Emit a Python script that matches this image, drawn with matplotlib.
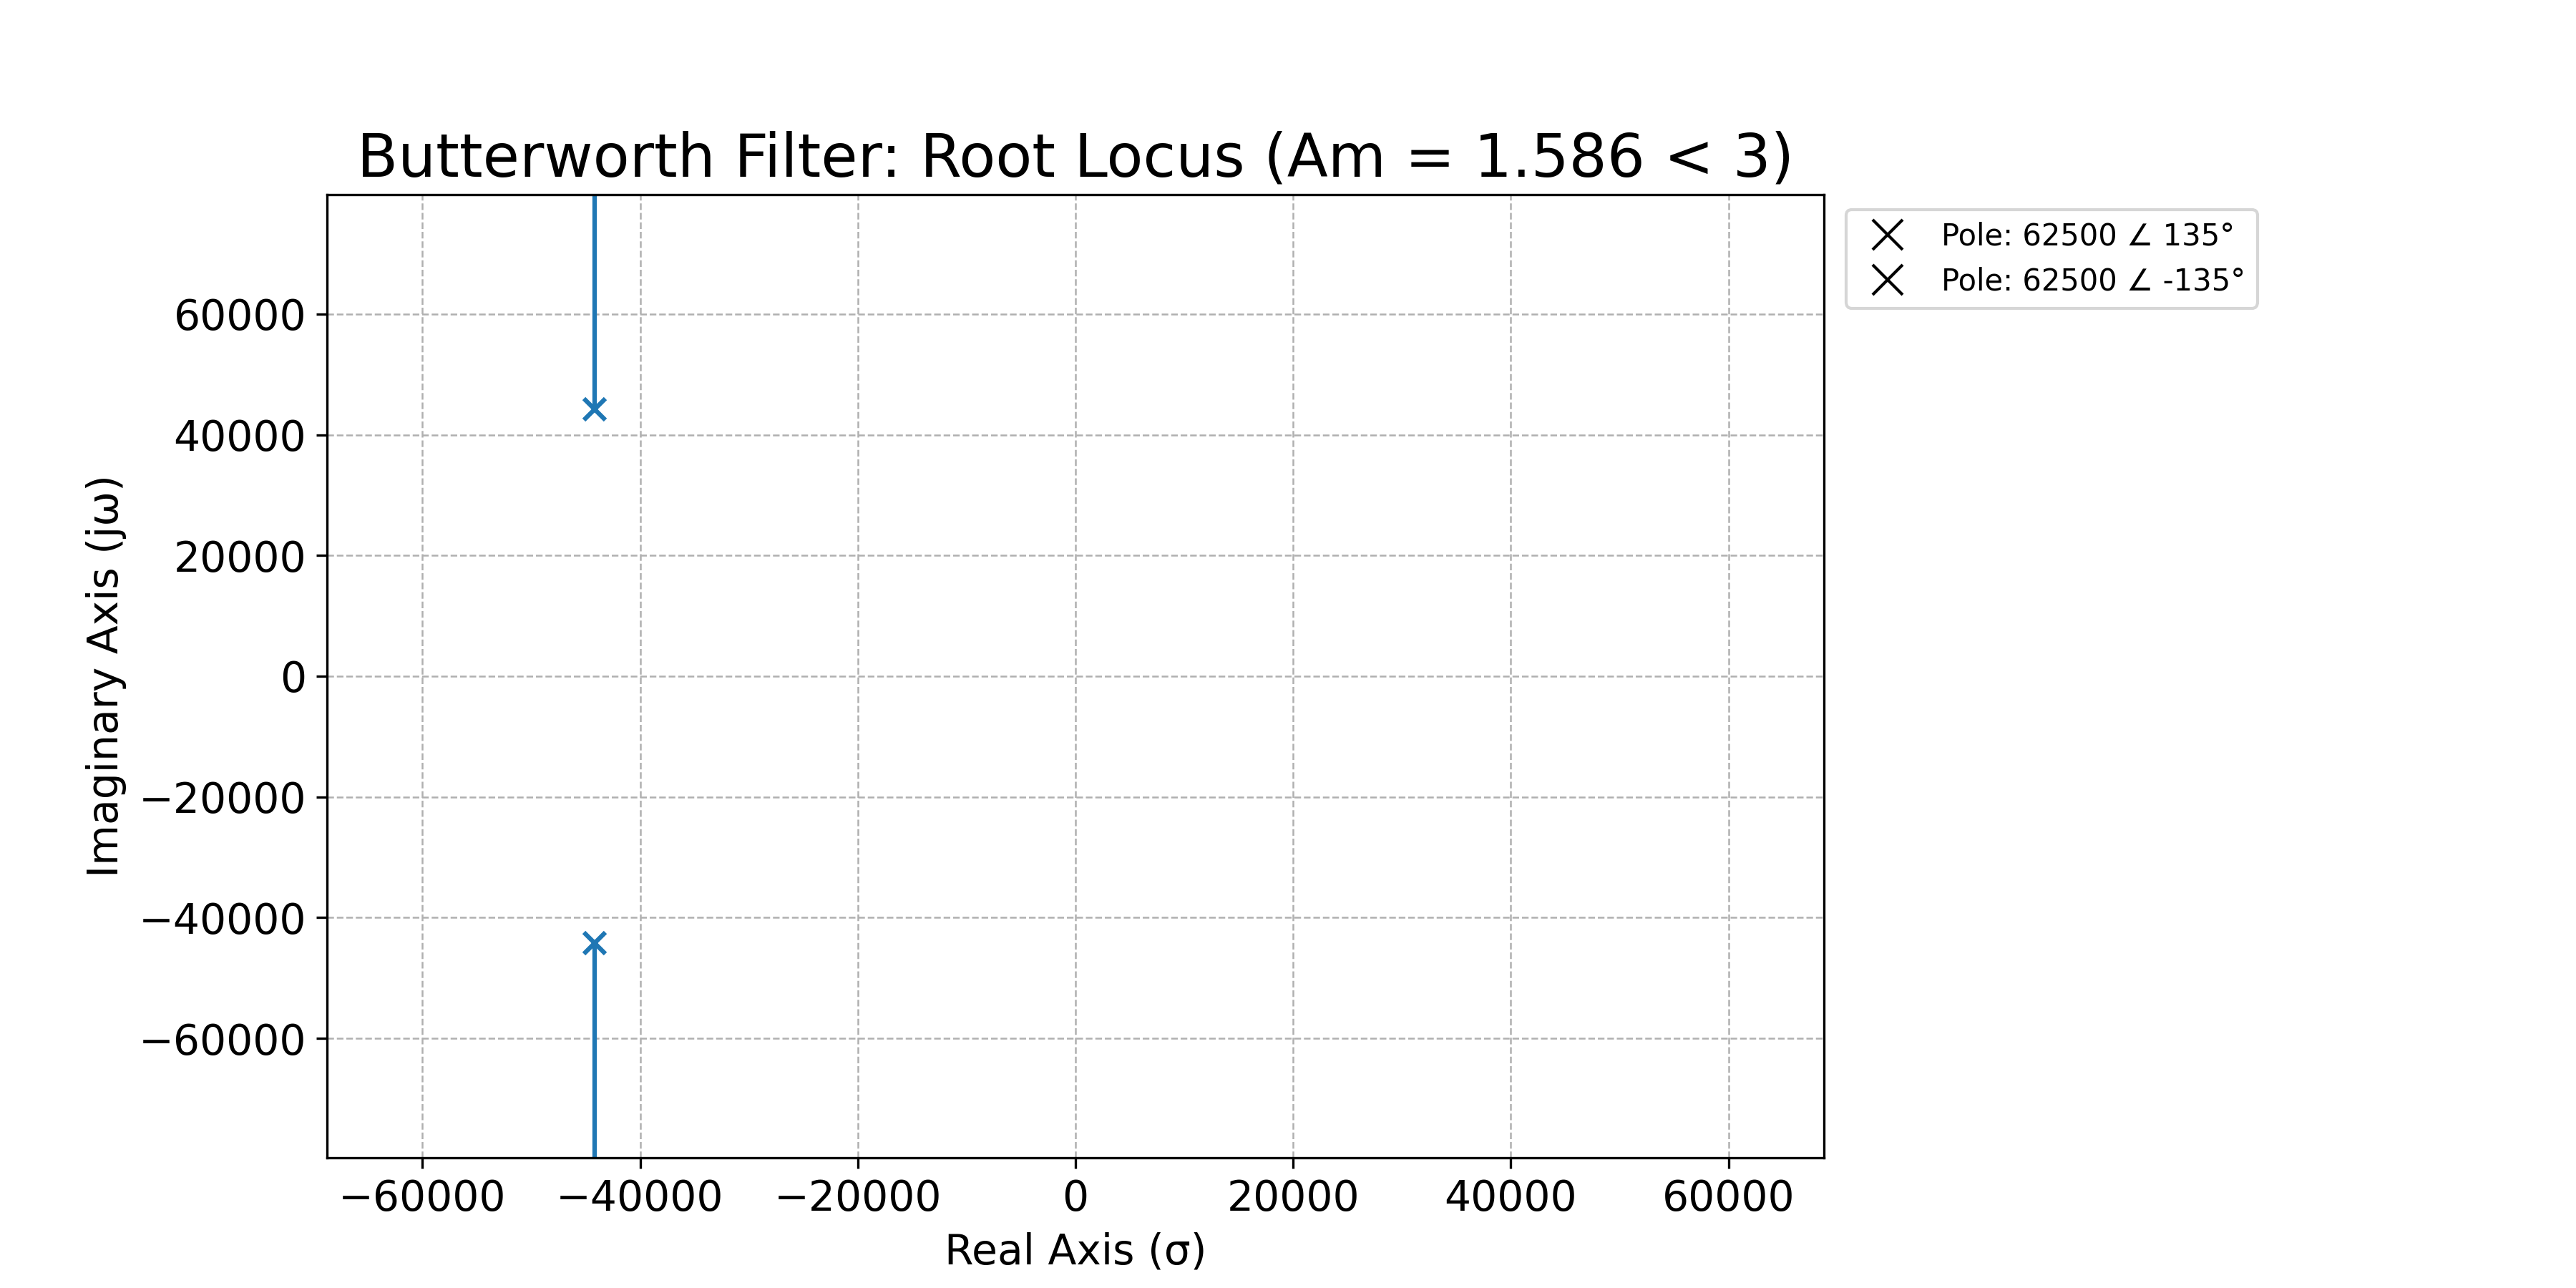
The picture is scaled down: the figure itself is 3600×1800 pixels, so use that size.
import numpy as np
import matplotlib.pyplot as plt

# pole data
pole_mag = 62500
pole_angles = [135, -135]
x_lim = 68750
y_lim = 79800

poles = [pole_mag * np.exp(1j * np.deg2rad(a)) for a in pole_angles]

fig = plt.figure(figsize=(12, 6), dpi=300)
ax = fig.add_axes([0.127, 0.101, 0.581, 0.748])

for p, a in zip(poles, pole_angles):
    end = y_lim * 2 * np.sign(p.imag)
    ax.plot([p.real, p.real], [p.imag, end], color='#1f77b4', lw=1.5)
    ax.plot(p.real, p.imag, 'x', color='#1f77b4', ms=7, mew=1.5)
    ax.plot([], [], 'x', color='black', ms=10, mew=1,
            label=f'Pole: {pole_mag} \u2220 {a}\u00b0')

ax.set_xlim(-x_lim, x_lim)
ax.set_ylim(-y_lim, y_lim)
ax.set_xticks(np.arange(-60000, 60001, 20000))
ax.set_yticks(np.arange(-60000, 60001, 20000))
ax.tick_params(labelsize=14)
ax.grid(True, ls='--', lw=0.6, color='#b0b0b0')
ax.set_title('Butterworth Filter: Root Locus (Am = 1.586 < 3)', fontsize=20)
ax.set_xlabel('Real Axis (\u03c3)', fontsize=14)
ax.set_ylabel('Imaginary Axis (j\u03c9)', fontsize=14)
ax.legend(loc='upper left', bbox_to_anchor=(1.005, 1.0), fontsize=10)

fig.savefig('out.png')
